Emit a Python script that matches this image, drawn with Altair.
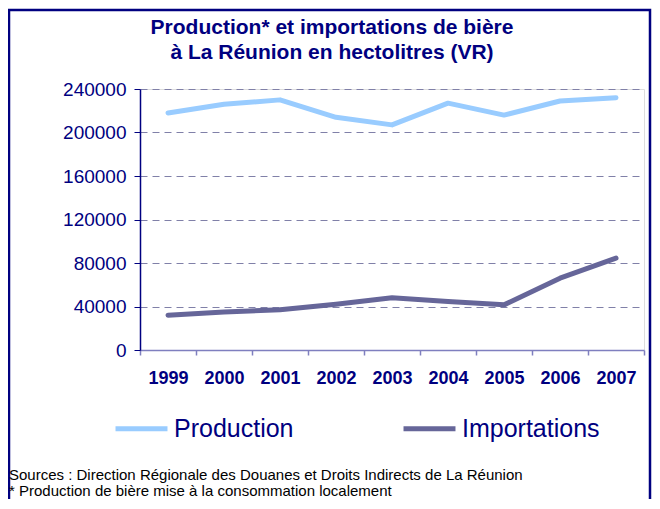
import altair as alt
import pandas as pd

years = ["1999", "2000", "2001", "2002", "2003", "2004", "2005", "2006", "2007"]
production = [218000, 226000, 230000, 214000, 207000, 227000, 216000, 229000, 232000]
importations = [32000, 35000, 37000, 42000, 48000, 44500, 41500, 66000, 84500]
series_names = ["Production", "Importations"]
series_colors = ["#99CCFF", "#666699"]
y_ticks = [0, 40000, 80000, 120000, 160000, 200000, 240000]
title_lines = ["Production* et importations de bière", "à La Réunion en hectolitres (VR)"]
notes = [
    "Sources : Direction Régionale des Douanes et Droits Indirects de La Réunion",
    "* Production de bière mise à la consommation localement",
]

NAVY = "#000080"
FONT = "Liberation Sans"

df = pd.DataFrame({
    "year": years + years,
    "value": production + importations,
    "series": [series_names[0]] * len(years) + [series_names[1]] * len(years),
})

W, H = 504, 261

lines = alt.Chart(df).mark_line(strokeWidth=5, strokeCap="round", strokeJoin="round").encode(
    x=alt.X(
        "year:O",
        sort=years,
        bandPosition=0.5,
        scale=alt.Scale(type="band", paddingInner=0, paddingOuter=0),
        axis=alt.Axis(
            title=None, labelAngle=0, tickBand="extent", grid=False,
            domainColor="#7F7FBF", domainWidth=1.5, tickColor="#7F7FBF", tickSize=5, tickWidth=1.5,
            labelFont=FONT, labelFontSize=18, labelFontWeight="bold", labelColor=NAVY,
            labelPadding=14,
        ),
    ),
    y=alt.Y(
        "value:Q",
        scale=alt.Scale(domain=[0, 240000], nice=False),
        axis=alt.Axis(
            title=None, values=y_ticks, format="d",
            domainColor=NAVY, domainWidth=1.5, tickColor=NAVY, tickSize=6, tickWidth=1,
            labelFont=FONT, labelFontSize=19, labelColor=NAVY, labelPadding=8,
            grid=True, gridColor="#8080A8", gridDash=[7, 5], gridWidth=1,
        ),
    ),
    color=alt.Color(
        "series:N",
        sort=series_names,
        scale=alt.Scale(domain=series_names, range=series_colors),
        legend=alt.Legend(
            title=None, orient="none", direction="horizontal",
            legendX=-27, legendY=311,
            symbolType="stroke", symbolStrokeWidth=5, symbolSize=2700,
            labelFont=FONT, labelFontSize=25, labelColor=NAVY, labelOffset=4,
            columnPadding=99,
        ),
    ),
)

def text_line(txt, x, y, size, weight="normal", align="left", color=NAVY):
    return alt.Chart(pd.DataFrame({"t": [txt]})).mark_text(
        align=align, baseline="middle", font=FONT, fontSize=size,
        fontWeight=weight, color=color,
    ).encode(x=alt.value(x), y=alt.value(y), text="t:N")

title1 = text_line(title_lines[0], 192, -61, 21, "bold", "center")
title2 = text_line(title_lines[1], 192, -36, 21, "bold", "center")
note1 = text_line(notes[0], -131, 386, 15, color="#000000")
note2 = text_line(notes[1], -131, 402, 15, color="#000000")

border = alt.Chart(pd.DataFrame({"k": [0]})).mark_rect(
    filled=False, stroke=NAVY, strokeWidth=2.5
).encode(x=alt.value(-131), x2=alt.value(510), y=alt.value(-79), y2=alt.value(460))

chart = alt.layer(border, lines, title1, title2, note1, note2).properties(
    width=W,
    height=H,
    autosize=alt.AutoSizeParams(type="none"),
    padding={"left": 132, "top": 81, "right": 8, "bottom": 149},
).configure_view(stroke=None).configure(background="white")

chart.save("out.html", embed_options={"renderer": "svg", "actions": False})
